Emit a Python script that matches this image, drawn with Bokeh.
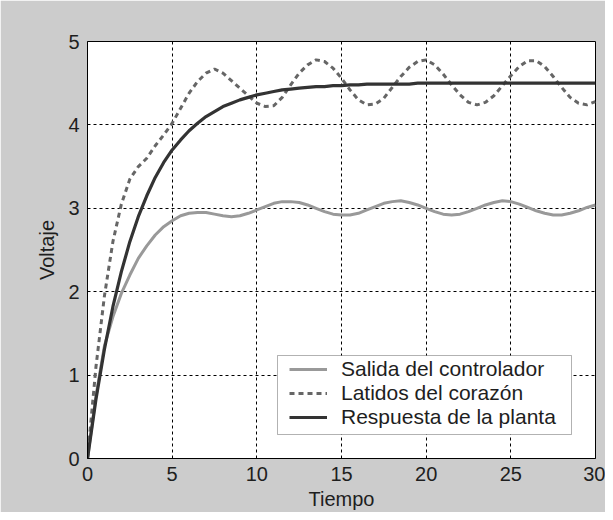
from bokeh.plotting import figure
from bokeh.models import Range1d, FixedTicker, Legend, LegendItem, BoxAnnotation
from bokeh.embed import file_html
from bokeh.resources import INLINE

# ---- data ----
tiempo = [i * 0.5 for i in range(61)]  # 0 .. 30 step 0.5

salida_controlador = [
    0.00, 0.75, 1.35, 1.70, 1.98, 2.20, 2.40, 2.55, 2.68, 2.78,
    2.85, 2.91, 2.94, 2.95, 2.95, 2.93, 2.91, 2.90, 2.91, 2.94,
    2.98, 3.02, 3.06, 3.08, 3.08, 3.07, 3.04, 3.00, 2.96, 2.93,
    2.92, 2.92, 2.94, 2.98, 3.02, 3.06, 3.08, 3.09, 3.07, 3.04,
    3.00, 2.96, 2.93, 2.92, 2.93, 2.96, 3.00, 3.04, 3.07, 3.09,
    3.08, 3.05, 3.01, 2.97, 2.94, 2.92, 2.92, 2.94, 2.97, 3.01,
    3.04,
]

latidos_corazon = [
    0.00, 1.10, 1.95, 2.60, 3.05, 3.35, 3.50, 3.60, 3.75, 3.88,
    4.02, 4.20, 4.38, 4.52, 4.62, 4.67, 4.62, 4.53, 4.44, 4.35,
    4.26, 4.22, 4.23, 4.33, 4.48, 4.62, 4.72, 4.78, 4.76, 4.68,
    4.56, 4.42, 4.30, 4.24, 4.25, 4.32, 4.45, 4.58, 4.69, 4.76,
    4.78, 4.72, 4.61, 4.48, 4.36, 4.27, 4.24, 4.27, 4.35, 4.47,
    4.59, 4.70, 4.77, 4.77, 4.70, 4.58, 4.45, 4.33, 4.26, 4.24,
    4.28,
]

respuesta_planta = [
    0.00, 0.71, 1.31, 1.82, 2.24, 2.60, 2.90, 3.15, 3.37, 3.55,
    3.70, 3.82, 3.93, 4.02, 4.10, 4.16, 4.22, 4.26, 4.30, 4.33,
    4.36, 4.38, 4.40, 4.42, 4.43, 4.44, 4.45, 4.46, 4.46, 4.47,
    4.47, 4.48, 4.48, 4.49, 4.49, 4.49, 4.49, 4.49, 4.49, 4.50,
    4.50, 4.50, 4.50, 4.50, 4.50, 4.50, 4.50, 4.50, 4.50, 4.50,
    4.50, 4.50, 4.50, 4.50, 4.50, 4.50, 4.50, 4.50, 4.50, 4.50,
    4.50,
]

x_ticks = [0, 5, 10, 15, 20, 25, 30]
y_ticks = [0, 1, 2, 3, 4, 5]
etiquetas = ["Salida del controlador", "Latidos del corazón", "Respuesta de la planta"]
titulo_x = "Tiempo"
titulo_y = "Voltaje"

FONT = "Liberation Sans"
TXT = "#1e1e1e"

p = figure(width=605, height=512, output_backend="svg", toolbar_location=None,
           x_range=Range1d(0, 30), y_range=Range1d(0, 5),
           min_border_left=87, min_border_right=10, min_border_top=41, min_border_bottom=53)

p.border_fill_color = "#cccccc"
p.background_fill_color = "white"
p.outline_line_color = "black"
p.outline_line_width = 1
p.outline_line_alpha = 1

for ax, ticks in ((p.xaxis, x_ticks), (p.yaxis, y_ticks)):
    ax.ticker = FixedTicker(ticks=ticks)
    ax.axis_line_color = "black"
    ax.major_tick_in = 0
    ax.major_tick_out = 0
    ax.minor_tick_line_color = None
    ax.major_label_text_font = FONT
    ax.major_label_text_font_size = "20px"
    ax.major_label_text_color = TXT
    ax.axis_label_text_font = FONT
    ax.axis_label_text_font_size = "20px"
    ax.axis_label_text_font_style = "normal"
    ax.axis_label_text_color = TXT
    ax.major_label_standoff = 8

p.xaxis.axis_label = titulo_x
p.yaxis.axis_label = titulo_y
p.xaxis.axis_label_standoff = 4
p.yaxis.axis_label_standoff = 7

for g in (p.xgrid, p.ygrid):
    g.grid_line_color = "black"
    g.grid_line_dash = "3 3"
    g.grid_line_width = 1
    g.grid_line_alpha = 1

r1 = p.line(tiempo, salida_controlador, line_color="#999999", line_width=3)
r2 = p.line(tiempo, latidos_corazon, line_color="#666666", line_width=3, line_dash="5 4")
r3 = p.line(tiempo, respuesta_planta, line_color="#333333", line_width=3.2)

# legend frame
frame = BoxAnnotation(left=190, right=484, bottom=24, top=103,
                      left_units="screen", right_units="screen",
                      bottom_units="screen", top_units="screen",
                      fill_color="white", fill_alpha=1,
                      line_color="black", line_width=1, level="annotation")
p.add_layout(frame)

legend = Legend(items=[LegendItem(label=etiquetas[0], renderers=[r1]),
                       LegendItem(label=etiquetas[1], renderers=[r2]),
                       LegendItem(label=etiquetas[2], renderers=[r3])],
                location=(200, 27), padding=2, spacing=0,
                glyph_width=38, glyph_height=24, label_height=24,
                label_standoff=14,
                label_text_font=FONT, label_text_font_size="21px",
                label_text_color=TXT,
                border_line_alpha=0, background_fill_alpha=0)
p.add_layout(legend)

open("out.html", "w").write(file_html(p, INLINE))
